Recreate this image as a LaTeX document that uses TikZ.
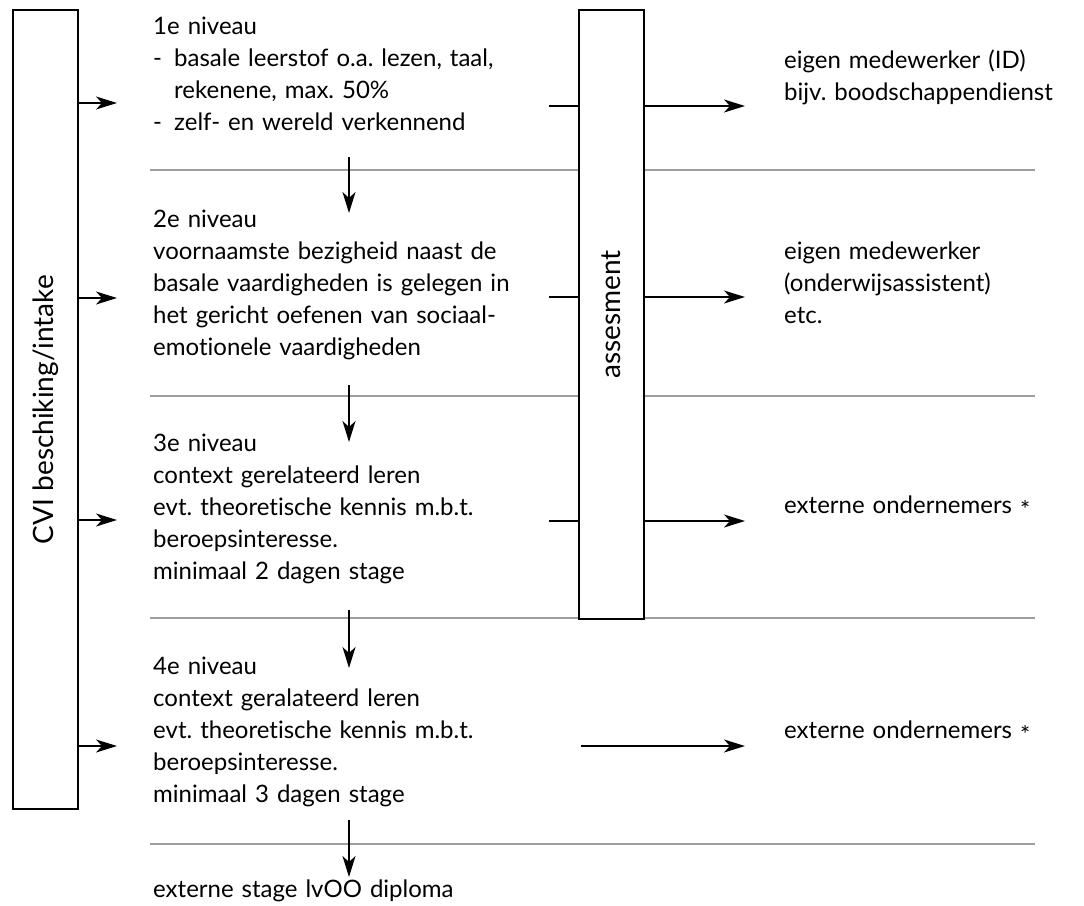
\documentclass[tikz,border=0pt]{standalone}
\usepackage{fontspec}
\setmainfont[Ligatures=NoCommon]{Lato}
\frenchspacing
\usetikzlibrary{arrows.meta}
\newcommand{\lowast}{\raisebox{-5pt}{*}}
\tikzset{
  conn/.style={line width=1.4pt, -{Stealth[length=21pt,width=13pt,inset=6pt]}},
  plain/.style={line width=1.4pt},
  sep/.style={line width=1.6pt, draw=black!38},
  vbox/.style={draw, line width=1.4pt, fill=white, inner sep=0pt},
  lvl/.style={anchor=base west, inner sep=0pt, text width=420pt, align=left, font=\fontsize{24}{32}\selectfont},
  rtxt/.style={anchor=base west, inner sep=0pt, text width=300pt, align=left, font=\fontsize{24}{32}\selectfont},
  vtxt/.style={rotate=90, inner sep=0pt, font=\fontsize{28}{32}\selectfont},
}
\begin{document}
\begin{tikzpicture}[x=1pt,y=-1pt]
\useasboundingbox (0,0) rectangle (1084,905);
% separator lines
\coordinate (s1a) at (150,170); \coordinate (s1b) at (1035,170);
\coordinate (s2a) at (150,396); \coordinate (s2b) at (1035,396);
\coordinate (s3a) at (150,618); \coordinate (s3b) at (1035,618);
\coordinate (s4a) at (150,844); \coordinate (s4b) at (1035,844);
\draw[sep] (s1a) -- (s1b);
\draw[sep] (s2a) -- (s2b);
\draw[sep] (s3a) -- (s3b);
\draw[sep] (s4a) -- (s4b);
% boxes
\node[vbox, minimum width=65pt, minimum height=799pt] (cvi) at (45.5,409.5) {};
\node[vtxt] (cvit) at (cvi.center) {CVI beschiking/intake};
\node[vbox, minimum width=65pt, minimum height=609pt] (ass) at (611.5,314.5) {};
\node[vtxt] (asst) at (ass.center) {assesment};
% level texts
\node[lvl] (l1) at (153,34) {1e niveau\\
\makebox[21pt][l]{-}basale leerstof o.a. lezen, taal,\\
\hspace*{21pt}rekenene, max. 50\%\\
\makebox[21pt][l]{-}zelf- en wereld verkennend};
\node[lvl] (l2) at (153,227) {2e niveau\\
voornaamste bezigheid naast de\\
basale vaardigheden is gelegen in\\
het gericht oefenen van sociaal-\\
emotionele vaardigheden};
\node[lvl] (l3) at (153,451) {3e niveau\\
context gerelateerd leren\\
evt. theoretische kennis m.b.t.\\
beroepsinteresse.\\
minimaal 2 dagen stage};
\node[lvl] (l4) at (153,674) {4e niveau\\
context geralateerd leren\\
evt. theoretische kennis m.b.t.\\
beroepsinteresse.\\
minimaal 3 dagen stage};
\node[lvl] (l5) at (153,897) {externe stage lvOO diploma};
% right texts
\node[rtxt] (r1) at (784,68) {eigen medewerker (ID)\\bijv. boodschappendienst};
\node[rtxt] (r2) at (784,259) {eigen medewerker\\(onderwijsassistent)\\etc.};
\node[rtxt] (r3) at (784,513) {externe ondernemers \lowast};
\node[rtxt] (r4) at (784,738) {externe ondernemers \lowast};
% arrows from CVI
\coordinate (i1) at (117,103);
\coordinate (i2) at (117,298);
\coordinate (i3) at (117,520);
\coordinate (i4) at (117,746);
\draw[conn] (cvi.east |- i1) -- (i1);
\draw[conn] (cvi.east |- i2) -- (i2);
\draw[conn] (cvi.east |- i3) -- (i3);
\draw[conn] (cvi.east |- i4) -- (i4);
% down arrows
\coordinate (d1a) at (349,157); \coordinate (d1b) at (349,213);
\coordinate (d2a) at (349,385); \coordinate (d2b) at (349,442);
\coordinate (d3a) at (349,610); \coordinate (d3b) at (349,668);
\coordinate (d4a) at (349,820); \coordinate (d4b) at (349,877);
\draw[conn] (d1a) -- (d1b);
\draw[conn] (d2a) -- (d2b);
\draw[conn] (d3a) -- (d3b);
\draw[conn] (d4a) -- (d4b);
% assessment in/out
\coordinate (a1) at (549,106); \coordinate (o1) at (745,106);
\coordinate (a2) at (549,297); \coordinate (o2) at (745,297);
\coordinate (a3) at (549,521); \coordinate (o3) at (745,521);
\coordinate (a4) at (581,746); \coordinate (o4) at (745,746);
\draw[plain] (a1) -- (ass.west |- a1);
\draw[plain] (a2) -- (ass.west |- a2);
\draw[plain] (a3) -- (ass.west |- a3);
\draw[conn] (ass.east |- o1) -- (o1);
\draw[conn] (ass.east |- o2) -- (o2);
\draw[conn] (ass.east |- o3) -- (o3);
\draw[conn] (a4) -- (o4);
\end{tikzpicture}
\end{document}
